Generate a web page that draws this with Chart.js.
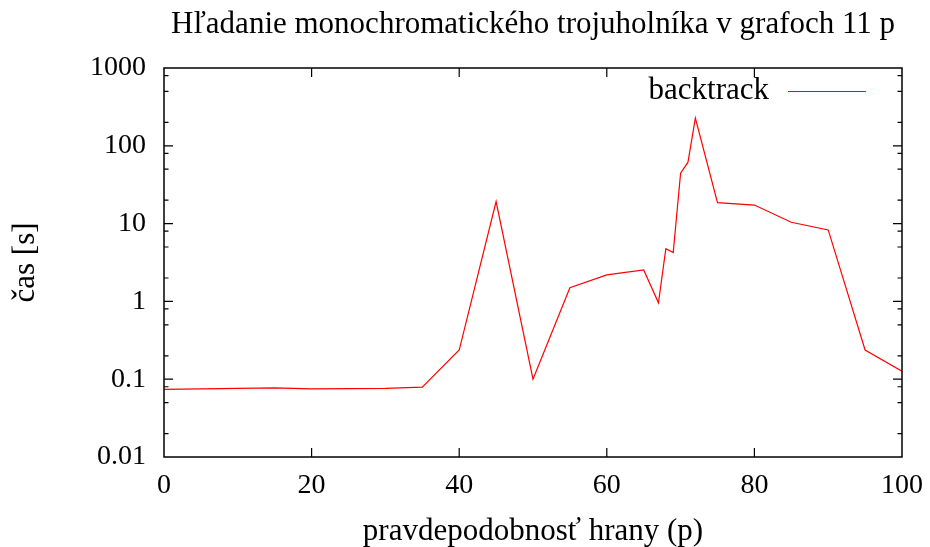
<!DOCTYPE html>
<html>
<head>
<meta charset="utf-8">
<script src="https://cdn.jsdelivr.net/npm/chart.js@4.4.0/dist/chart.umd.min.js"></script>
<style>
  html, body { margin: 0; padding: 0; background: #fff; }
  #wrap { width: 930px; height: 547px; }
</style>
</head>
<body>
<div id="wrap"><canvas id="chart" width="930" height="547"></canvas></div>
<script>
// Hľadanie monochromatického trojuholníka - backtrack, čas v sekundách
const probabilities = [0, 15, 20, 30, 35, 40, 45, 50, 55, 60, 65, 67, 68, 69, 70, 71, 72, 75, 80, 85, 90, 95, 100];
const backtrackTimes = [0.074, 0.0775, 0.0753, 0.076, 0.079, 0.237, 19.2, 0.100, 1.50, 2.19, 2.54, 0.96, 4.77, 4.24, 44.5, 61.6, 227, 18.6, 17.3, 10.4, 8.3, 0.237, 0.127];
const xTicks = [0, 20, 40, 60, 80, 100];
const yMajorTicks = [0.01, 0.1, 1, 10, 100, 1000];
const yMinorFactors = [2, 5, 8];

const FONT = "'Liberation Serif', 'DejaVu Serif', serif";
const LINE_COLOR = '#ff0000';

// rám grafu, tiky dovnútra a legenda v štýle gnuplotu
const framePlugin = {
    id: 'frame',
    afterDatasetsDraw(chart) {
        const { ctx, chartArea: a, scales } = chart;
        const xs = scales.x, ys = scales.y;
        ctx.save();
        ctx.strokeStyle = '#000';
        ctx.lineWidth = 1.5;
        ctx.strokeRect(a.left, a.top, a.right - a.left, a.bottom - a.top);

        ctx.lineWidth = 1.2;
        ctx.beginPath();
        xs.ticks.forEach(t => {
            const px = xs.getPixelForValue(t.value);
            if (px <= a.left + 1 || px >= a.right - 1) return;
            ctx.moveTo(px, a.bottom); ctx.lineTo(px, a.bottom - 9);
            ctx.moveTo(px, a.top); ctx.lineTo(px, a.top + 9);
        });
        ys.ticks.forEach(t => {
            const py = ys.getPixelForValue(t.value);
            if (py <= a.top + 1 || py >= a.bottom - 1) return;
            const len = t.major ? 9 : 4.5;
            ctx.moveTo(a.left, py); ctx.lineTo(a.left + len, py);
            ctx.moveTo(a.right, py); ctx.lineTo(a.right - len, py);
        });
        ctx.stroke();

        // legenda
        const ds = chart.data.datasets[0];
        ctx.font = '31px ' + FONT;
        ctx.fillStyle = '#000';
        ctx.textAlign = 'right';
        ctx.textBaseline = 'alphabetic';
        ctx.fillText(ds.label, 769, 99);
        ctx.strokeStyle = ds.borderColor;
        ctx.lineWidth = ds.borderWidth;
        ctx.beginPath();
        ctx.moveTo(788, 91.5);
        ctx.lineTo(866, 91.5);
        ctx.stroke();
        ctx.restore();
    }
};

new Chart(document.getElementById('chart'), {
    type: 'line',
    data: {
        datasets: [{
            label: 'backtrack',
            data: probabilities.map((p, i) => ({ x: p, y: backtrackTimes[i] })),
            borderColor: LINE_COLOR,
            borderWidth: 1.2,
            pointRadius: 0,
            tension: 0,
            fill: false
        }]
    },
    options: {
        responsive: false,
        animation: false,
        events: [],
        layout: { padding: { left: 0, right: 28, top: 0, bottom: 0 } },
        plugins: {
            legend: { display: false },
            tooltip: { enabled: false },
            title: {
                display: true,
                fullSize: false,
                text: 'Hľadanie monochromatického trojuholníka v grafoch 11 p',
                color: '#000',
                font: { family: FONT, size: 31, weight: 'normal', lineHeight: 1.2 },
                padding: { top: 6, bottom: 24.8 }
            }
        },
        scales: {
            x: {
                type: 'linear',
                min: 0,
                max: 100,
                afterBuildTicks: s => { s.ticks = xTicks.map(v => ({ value: v })); },
                afterFit: s => {
                    s.height = 90;
                    s.paddingLeft = 0;
                    s.paddingRight = 0;
                },
                grid: { display: false, drawTicks: false },
                border: { display: false },
                ticks: {
                    color: '#000',
                    padding: 12,
                    maxRotation: 0,
                    font: { family: FONT, size: 28 }
                },
                title: {
                    display: true,
                    text: 'pravdepodobnosť hrany (p)',
                    color: '#000',
                    font: { family: FONT, size: 31, lineHeight: 1.0 },
                    padding: { top: 0, bottom: 0 }
                }
            },
            y: {
                type: 'logarithmic',
                min: 0.01,
                max: 1000,
                afterBuildTicks: s => {
                    const ticks = [];
                    yMajorTicks.forEach((m, i) => {
                        ticks.push({ value: m, major: true });
                        if (i < yMajorTicks.length - 1) {
                            yMinorFactors.forEach(f => ticks.push({ value: m * f, major: false }));
                        }
                    });
                    s.ticks = ticks;
                },
                afterFit: s => { s.width = 164; },
                grid: { display: false, drawTicks: false },
                border: { display: false },
                ticks: {
                    color: '#000',
                    padding: 18,
                    autoSkip: false,
                    font: { family: FONT, size: 28 },
                    callback: v => yMajorTicks.includes(v) ? String(v) : ''
                },
                title: {
                    display: true,
                    text: 'čas [s]',
                    color: '#000',
                    font: { family: FONT, size: 31, lineHeight: 1.2 },
                    padding: { top: 7, bottom: 0 }
                }
            }
        }
    },
    plugins: [framePlugin]
});
</script>
</body>
</html>
